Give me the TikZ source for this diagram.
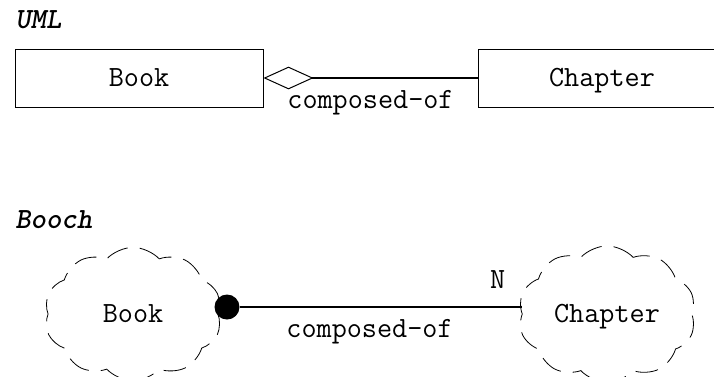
\documentclass[tikz,border=0pt]{standalone}
\usepackage{fontspec}
\setmonofont{Latin Modern Mono}
\newfontfamily\titlefont{lmmonolt10-boldoblique.otf}
\usetikzlibrary{shapes.symbols,arrows.meta,positioning}

\begin{document}
\begin{tikzpicture}[x=0.75pt, y=-0.75pt,
    every node/.style={font=\ttfamily\fontsize{22}{26}\selectfont},
    title/.style={font=\titlefont\fontsize{22}{26}\selectfont,
                  anchor=west, inner sep=0pt},
    cls/.style={rectangle, draw, line width=0.75pt,
                text height=15pt, text depth=2pt,
                minimum width=186pt, minimum height=43.5pt},
    obj/.style={cloud, cloud puffs=10, cloud puff arc=95, aspect=1.35,
                draw, line width=0.6pt, dash pattern=on 17pt off 9pt,
                text height=15pt, text depth=2pt,
                minimum width=133pt, minimum height=100pt},
    rel/.style={line width=1.5pt},
  ]
  \useasboundingbox (0,0) rectangle (714,376);

  % UML notation
  \node[title] (umltitle) at (15,20) {UML};
  \node[cls] (book) at (139,78) {Book};
  \node[cls] (chapter) at (602,78) {Chapter};
  \draw[rel, {Diamond[open, length=37.5pt, width=17pt, line width=0.75pt]}-]
    (book.east) -- (chapter.west) node[midway, below=5pt] {composed-of};

  % Booch notation
  \node[title] (boochtitle) at (15,220) {Booch};
  \node[obj] (bookobj) at (133,314) {Book};
  \node[obj] (chapobj) at (607,314) {Chapter};
  \node[circle, fill, inner sep=0pt, minimum size=18.75pt] (dot) at (227,307) {};
  \draw[rel] (dot) -- (chapobj.west |- dot)
    node[pos=0.46, below=5pt] {composed-of}
    node[pos=0.914, above=10pt] {N};
\end{tikzpicture}
\end{document}
